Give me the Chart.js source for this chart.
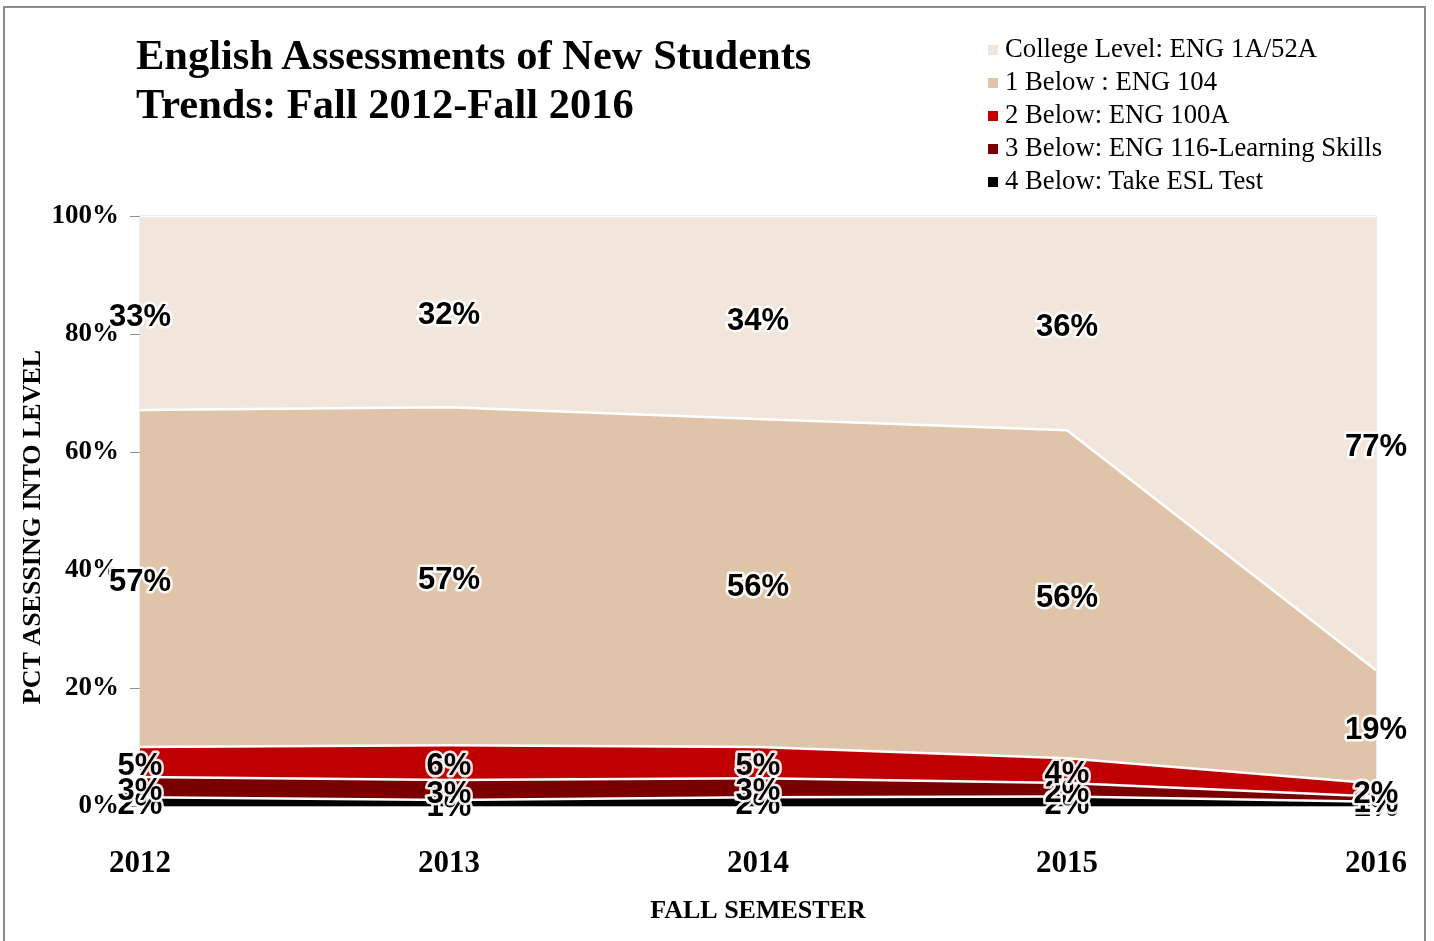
<!DOCTYPE html>
<html>
<head>
<meta charset="utf-8">
<script src="https://cdn.jsdelivr.net/npm/chart.js@4"></script>
<style>
  html, body { margin: 0; padding: 0; background: #fff; }
  #wrap { position: relative; width: 1434px; height: 941px; overflow: hidden; }
  #frame { position: absolute; left: 3px; top: 6px; width: 1419px; height: 960px; border: 2px solid #8c8c8c; pointer-events: none; }
  #title { position: absolute; left: 136px; top: 30px; font: bold 42.5px "Liberation Serif", "Times New Roman", serif; line-height: 49px; color: #000; }
  #legend { position: absolute; left: 988px; top: 32px; font: 26.7px "Liberation Serif", "Times New Roman", serif; color: #000; }
  #legend div { height: 33px; line-height: 33px; white-space: nowrap; }
  #legend span { display: inline-block; width: 10px; height: 10px; margin-right: 7px; vertical-align: 2px; }
</style>
</head>
<body>
<div id="wrap">
  <canvas id="chart" width="1434" height="941"></canvas>
  <div id="title">English Assessments of New Students<br>Trends: Fall 2012-Fall 2016</div>
  <div id="legend"></div>
  <div id="frame"></div>
</div>
<script>
// Fall semesters
const years = ["2012", "2013", "2014", "2015", "2016"];
// percent of new students placing at each level (bottom of stack first)
const below4 = [1.5, 1.0, 1.5, 1.6, 0.7];
const below3 = [3.4, 3.4, 3.2, 2.3, 0.9];
const below2 = [5.1, 5.9, 5.3, 4.2, 2.2];
const below1 = [57.1, 57.3, 55.6, 55.6, 19.2];
const college = [32.9, 32.4, 34.4, 36.3, 77.0];
const yTicks = [0, 20, 40, 60, 80, 100];

const seriesNames = [
  "4 Below: Take ESL Test",
  "3 Below: ENG 116-Learning Skills",
  "2 Below: ENG 100A",
  "1 Below : ENG 104",
  "College Level: ENG 1A/52A"
];
const seriesData = [below4, below3, below2, below1, college];
const seriesColours = ["#000000", "#7a0000", "#c00000", "#dfc4aa", "#f2e6dc"];

const serif = "'Liberation Serif', 'Times New Roman', serif";

// Legend, top item is the top band
var legendHtml = "";
for (var i = seriesNames.length - 1; i >= 0; i--) {
  legendHtml += "<div><span style='background:" + seriesColours[i] + "'></span>" + seriesNames[i] + "</div>";
}
document.getElementById("legend").innerHTML = legendHtml;

var datasets = seriesData.map((vals, i) => {
  return {
    label: seriesNames[i],
    data: vals,
    backgroundColor: seriesColours[i],
    borderColor: "#ffffff",
    borderWidth: 2.5,
    pointRadius: 0,
    tension: 0,
    fill: i === 0 ? "origin" : "-1",
  };
});

// Percent labels in the middle of each band, black with white halo
const bandLabels = {
  id: "bandLabels",
  afterDatasetsDraw(chart) {
    const ctx = chart.ctx;
    const yScale = chart.scales.y;
    ctx.save();
    ctx.font = "bold 31px 'Liberation Sans', Arial, sans-serif";
    ctx.textAlign = "center";
    ctx.textBaseline = "middle";
    ctx.lineJoin = "round";
    var base = years.map(() => 0);
    chart.data.datasets.forEach((ds, i) => {
      const meta = chart.getDatasetMeta(i);
      ds.data.forEach((v, j) => {
        const x = meta.data[j].x;
        const y = (yScale.getPixelForValue(base[j]) + yScale.getPixelForValue(base[j] + v)) / 2 + 4;
        const txt = Math.round(v) + "%";
        ctx.strokeStyle = "rgba(255,255,255,0.9)";
        ctx.lineWidth = 5;
        ctx.strokeText(txt, x, y);
        ctx.fillStyle = "#000";
        ctx.fillText(txt, x, y);
        base[j] += v;
      });
    });
    ctx.restore();
  },
};

// Thin border round the plot area, plus the rotated y axis title
const plotBorder = {
  id: "plotBorder",
  beforeDatasetsDraw(chart) {
    const a = chart.chartArea;
    const ctx = chart.ctx;
    ctx.save();
    ctx.strokeStyle = "#d9d9d9";
    ctx.lineWidth = 1;
    ctx.strokeRect(a.left, a.top, a.right - a.left, a.bottom - a.top);
    ctx.translate(33, 527);
    ctx.rotate(-Math.PI / 2);
    ctx.font = "bold 26px " + serif;
    ctx.fillStyle = "#000";
    ctx.textAlign = "center";
    ctx.textBaseline = "middle";
    ctx.fillText("PCT ASESSING INTO LEVEL", 0, 0);
    ctx.restore();
  },
};

new Chart(document.getElementById("chart"), {
  type: "line",
  data: { labels: years, datasets: datasets },
  plugins: [plotBorder, bandLabels],
  options: {
    responsive: false,
    animation: false,
    layout: { padding: { top: 216, right: 58, left: 0, bottom: 0 } },
    plugins: {
      legend: { display: false },
      title: { display: false },
      tooltip: { enabled: false },
    },
    scales: {
      x: {
        offset: false,
        grid: { display: false, drawTicks: false },
        border: { display: true, color: "#8c8c8c" },
        ticks: {
          color: "#000",
          padding: 39,
          maxRotation: 0,
          font: { family: serif, size: 31, weight: "bold" },
        },
        title: {
          display: true,
          text: "FALL SEMESTER",
          color: "#000",
          padding: { top: 0, bottom: 14 },
          font: { family: serif, size: 26, weight: "bold" },
        },
        afterFit(scale) {
          scale.height = 135;
          // tick padding should not push the plot in from the sides
          scale.paddingLeft = 0;
          scale.paddingRight = 0;
        },
      },
      y: {
        stacked: true,
        min: 0,
        max: 100,
        afterBuildTicks(scale) {
          scale.ticks = yTicks.map((v) => ({ value: v }));
        },
        grid: { drawOnChartArea: false, drawTicks: true, tickLength: 10, color: "#8c8c8c" },
        border: { display: true, color: "#8c8c8c" },
        ticks: {
          color: "#000",
          padding: 11,
          font: { family: serif, size: 27, weight: "bold" },
          callback: (v) => v + "%",
        },
        title: { display: false },
        afterFit(scale) {
          scale.width = 140;
        },
      },
    },
  },
});
</script>
</body>
</html>
